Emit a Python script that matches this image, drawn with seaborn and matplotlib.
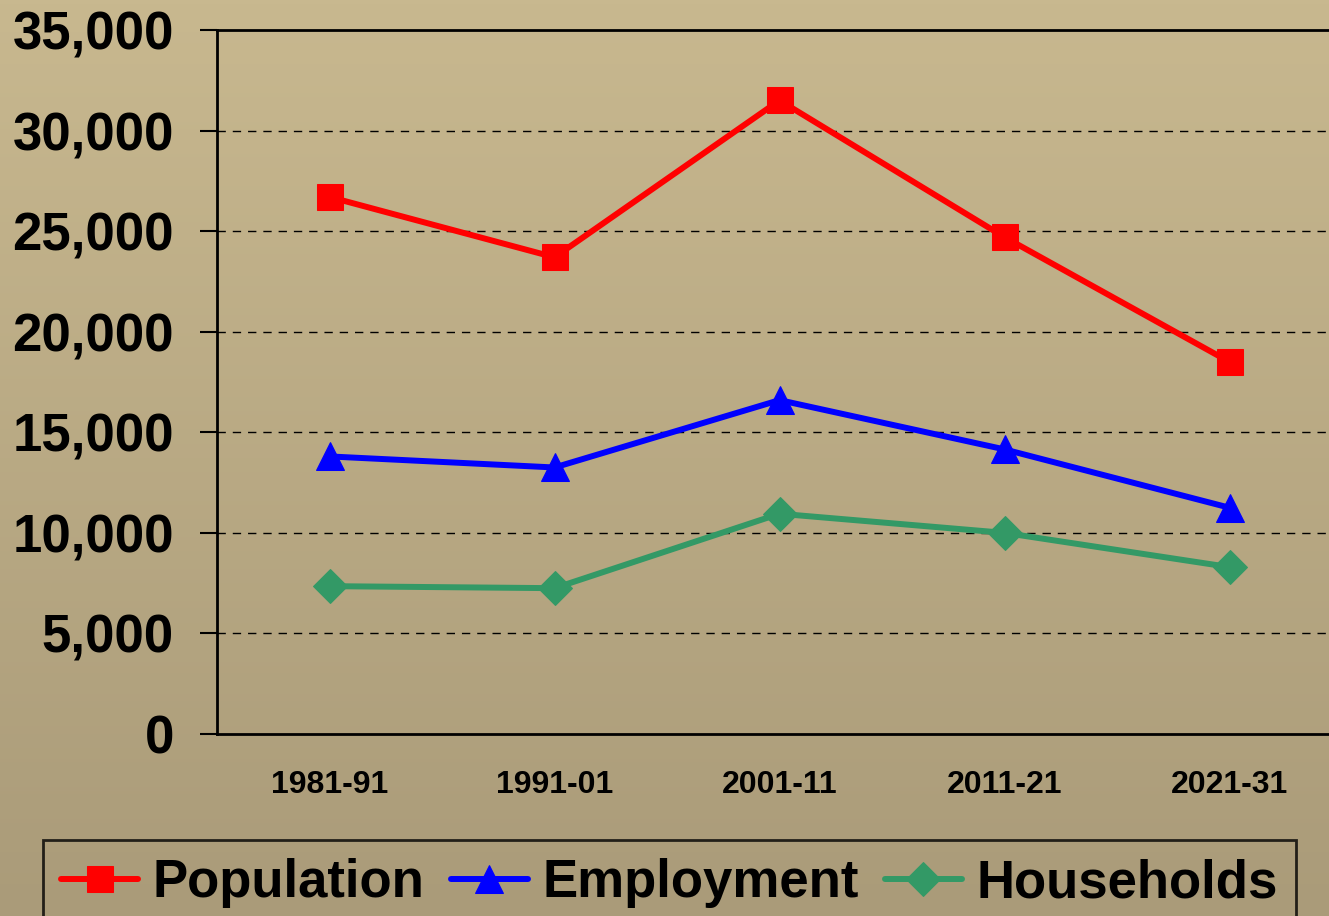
import numpy as np
import pandas as pd
import matplotlib
matplotlib.use("Agg")
import matplotlib.pyplot as plt
from matplotlib.colors import LinearSegmentedColormap
import seaborn as sns

# data
periods = ["1981-91", "1991-01", "2001-11", "2011-21", "2021-31"]
population = [26700, 23700, 31500, 24700, 18500]
employment = [13800, 13250, 16600, 14150, 11250]
households = [7350, 7250, 10950, 10000, 8300]

series_names = ["Population", "Employment", "Households"]
series_colors = ["#FF0000", "#0000FF", "#339966"]
series_markers = ["s", "^", "D"]

sns.set_style("white")
plt.rcParams["font.family"] = ["Liberation Sans", "DejaVu Sans"]
plt.rcParams["font.weight"] = "bold"
plt.rcParams["text.color"] = "black"
plt.rcParams["xtick.color"] = "black"
plt.rcParams["ytick.color"] = "black"

fig = plt.figure(figsize=(13.29, 9.16), dpi=100)

# gradient background for whole figure
bg = fig.add_axes([0, 0, 1, 1], zorder=-10)
cmap = LinearSegmentedColormap.from_list("tan", ["#c8b88f", "#aa9b79"])
grad = np.linspace(0, 1, 256).reshape(-1, 1)
bg.imshow(grad, aspect="auto", cmap=cmap, extent=[0, 1, 0, 1])
bg.axis("off")

ax = fig.add_axes([217 / 1329, 1 - 734 / 916, 1125 / 1329, 704 / 916])
ax.set_facecolor("none")

data = pd.DataFrame({"period": periods * 3,
                     "value": population + employment + households,
                     "series": np.repeat(series_names, len(periods))})
data["x"] = np.tile(np.arange(len(periods)), 3)

msizes = {"s": 19, "^": 20, "D": 17}
for name, col, mk in zip(series_names, series_colors, series_markers):
    sub = data[data["series"] == name]
    sns.lineplot(data=sub, x="x", y="value", ax=ax, color=col, marker=mk,
                 markersize=msizes[mk], markeredgecolor=col, linewidth=4.3,
                 label=name, legend=False, zorder=3)

ax.set_xlim(-0.5, 4.5)
ax.set_ylim(0, 35000)
ax.set_xticks(range(len(periods)))
ax.set_xticklabels(periods, fontsize=23, fontweight="bold", color="black")
ax.set_yticks(range(0, 35001, 5000))
ax.set_yticklabels([f"{v:,}" for v in range(0, 35001, 5000)], fontsize=38,
                   fontweight="bold", color="black")
ax.tick_params(axis="y", direction="out", length=12, width=1.5, pad=19, color="black", left=True)
ax.tick_params(axis="x", length=0, pad=26)
ax.set_xlabel("")
ax.set_ylabel("")

for v in range(5000, 35000, 5000):
    ax.axhline(v, color="black", linestyle=(0, (6, 5)), linewidth=1.0, zorder=1)

for side in ["left", "bottom", "top"]:
    ax.spines[side].set_visible(True)
    ax.spines[side].set_color("black")
    ax.spines[side].set_linewidth(2)
ax.spines["right"].set_visible(False)

handles, labels = ax.get_legend_handles_labels()
leg = fig.legend(handles, labels, loc="upper left", bbox_to_anchor=(43 / 1329, 1 - 840 / 916),
                 ncol=3, frameon=True, fancybox=False,
                 prop={"weight": "bold", "size": 38}, handlelength=1.45,
                 handletextpad=0.28, columnspacing=0.5, borderpad=0.35,
                 borderaxespad=0, labelcolor="black")
leg.get_frame().set_edgecolor("black")
leg.get_frame().set_linewidth(2)
leg.get_frame().set_facecolor("none")

fig.savefig("out.png", dpi=100)
